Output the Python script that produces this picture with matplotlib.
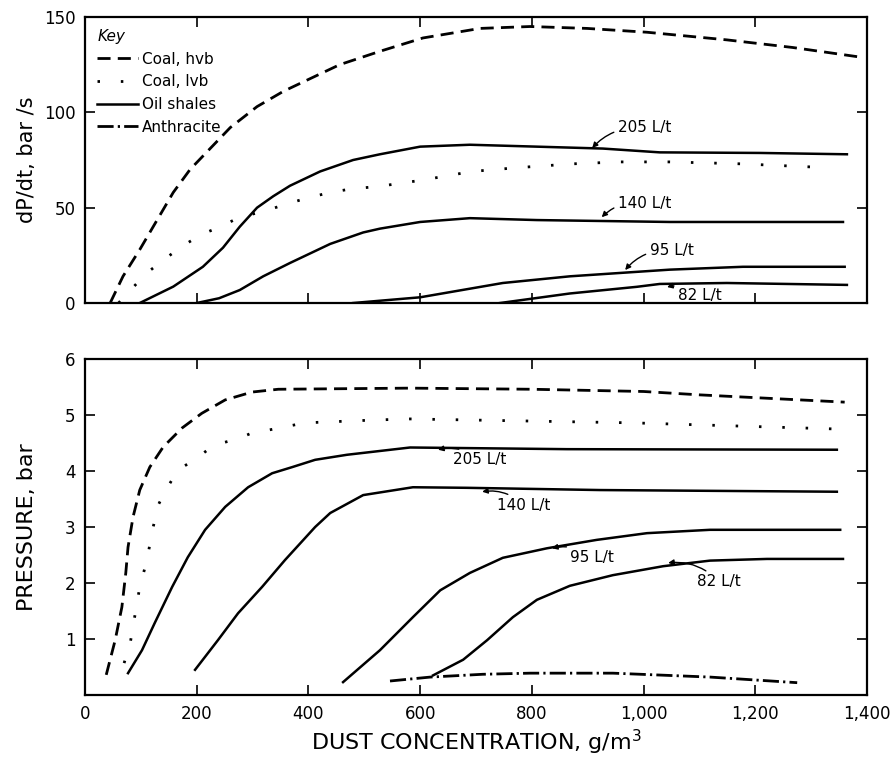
import matplotlib
matplotlib.use("Agg")
import matplotlib.pyplot as plt
from matplotlib.lines import Line2D

# ---- data ----
# top panel: rate of pressure rise, bar/s
hvb_top_x = [45, 68, 98, 129, 158, 188, 224, 260, 308, 355, 456, 528, 605, 707, 797, 899, 1006, 1149, 1267, 1387]
hvb_top_y = [0, 14, 28, 43.5, 58, 70, 81, 92, 103, 111, 125, 132, 139, 144, 145, 144, 142, 138, 134, 129]

lvb_top_x = [60, 95, 116, 147, 175, 209, 242, 277, 319, 362, 397, 439, 480, 522, 605, 693, 775, 874, 958, 1047, 1173, 1328]
lvb_top_y = [0, 11, 17, 24, 30, 36, 40, 45, 48, 52, 55, 58, 60, 61, 64.5, 69, 71, 73, 74, 74, 73, 71]

s205_top_x = [98, 158, 211, 247, 277, 308, 337, 367, 421, 480, 528, 600, 689, 809, 927, 1029, 1208, 1364]
s205_top_y = [0, 8.6, 19, 29, 40, 50, 56, 61.5, 69, 75, 78, 82, 83, 82, 81, 79, 78.7, 78]

s140_top_x = [200, 240, 277, 319, 367, 439, 498, 528, 600, 689, 809, 1047, 1357]
s140_top_y = [0, 2.5, 6.8, 14, 21, 31, 37, 39, 42.5, 44.5, 43.5, 42.5, 42.5]

s95_top_x = [480, 600, 748, 868, 970, 1047, 1178, 1360]
s95_top_y = [0, 3, 10.5, 14, 16, 17.5, 19, 19]

s82_top_x = [743, 868, 988, 1029, 1149, 1364]
s82_top_y = [0, 5, 8.5, 10, 10.5, 9.5]

# bottom panel: maximum pressure, bar
hvb_bot_x = [38, 54, 66, 73, 77, 86, 98, 116, 140, 174, 209, 251, 299, 346, 582, 800, 1000, 1100, 1360]
hvb_bot_y = [0.36, 0.98, 1.57, 2.18, 2.64, 3.18, 3.66, 4.07, 4.43, 4.77, 5.03, 5.27, 5.41, 5.46, 5.48, 5.46, 5.42, 5.36, 5.23]

lvb_bot_x = [70, 81, 90, 98, 111, 120, 131, 143, 158, 175, 200, 220, 245, 272, 299, 328, 358, 394, 516, 582, 981, 1346]
lvb_bot_y = [0.57, 0.93, 1.46, 1.93, 2.41, 2.91, 3.39, 3.63, 3.88, 4.07, 4.23, 4.38, 4.5, 4.57, 4.68, 4.73, 4.79, 4.86, 4.91, 4.93, 4.86, 4.75]

s205_bot_x = [77, 102, 125, 156, 184, 215, 251, 292, 335, 371, 412, 469, 582, 863, 1346]
s205_bot_y = [0.39, 0.8, 1.29, 1.93, 2.46, 2.95, 3.36, 3.71, 3.96, 4.07, 4.2, 4.29, 4.42, 4.39, 4.38]

s140_bot_x = [197, 238, 274, 317, 358, 412, 439, 498, 587, 684, 922, 1346]
s140_bot_y = [0.45, 0.98, 1.46, 1.93, 2.41, 3.0, 3.25, 3.57, 3.71, 3.7, 3.66, 3.63]

s95_bot_x = [462, 528, 587, 636, 689, 748, 827, 916, 1006, 1119, 1352]
s95_bot_y = [0.23, 0.8, 1.39, 1.87, 2.18, 2.45, 2.62, 2.77, 2.89, 2.95, 2.95]

s82_bot_x = [623, 677, 720, 766, 809, 868, 945, 1035, 1119, 1221, 1357]
s82_bot_y = [0.35, 0.63, 0.98, 1.39, 1.7, 1.95, 2.14, 2.3, 2.4, 2.43, 2.43]

anth_bot_x = [546, 618, 712, 797, 945, 1119, 1275]
anth_bot_y = [0.25, 0.32, 0.37, 0.39, 0.39, 0.32, 0.22]

x_ticks = [0, 200, 400, 600, 800, 1000, 1200, 1400]
x_ticklabels = ["0", "200", "400", "600", "800", "1,000", "1,200", "1,400"]

# (label text, text position, arrow tip)
top_notes = [
    ("205 L/t", (954, 91.8), (908, 81.3)),
    ("140 L/t", (954, 52.4), (925, 45.0)),
    ("95 L/t", (1011, 27.8), (967, 17.3)),
    ("82 L/t", (1062, 4.2), (1042, 8.4)),
]
bot_notes = [
    ("205 L/t", (659, 4.2), (632, 4.38)),
    ("140 L/t", (738, 3.39), (711, 3.63)),
    ("95 L/t", (868, 2.46), (836, 2.62)),
    ("82 L/t", (1096, 2.02), (1044, 2.36)),
]

# ---- styles ----
DASH = dict(color="k", lw=2, linestyle=(0, (4.7, 2.6)))
DOT = dict(color="k", lw=2, linestyle=(0, (0.9, 7.5)))
SOLID = dict(color="k", lw=1.8)
DASHDOT = dict(color="k", lw=2, linestyle=(0, (5.8, 1.5, 0.8, 1.5)))

plt.rcParams["font.family"] = "DejaVu Sans"

fig = plt.figure(figsize=(8.93, 7.65), dpi=100)
ax1 = fig.add_axes([0.0952, 0.6039, 0.8757, 0.3739])
ax2 = fig.add_axes([0.0952, 0.0915, 0.8757, 0.4392])

ax1.plot(hvb_top_x, hvb_top_y, **DASH)
ax1.plot(lvb_top_x, lvb_top_y, **DOT)
for xs, ys in [(s205_top_x, s205_top_y), (s140_top_x, s140_top_y),
               (s95_top_x, s95_top_y), (s82_top_x, s82_top_y)]:
    ax1.plot(xs, ys, **SOLID)

ax2.plot(hvb_bot_x, hvb_bot_y, **DASH)
ax2.plot(lvb_bot_x, lvb_bot_y, **DOT)
for xs, ys in [(s205_bot_x, s205_bot_y), (s140_bot_x, s140_bot_y),
               (s95_bot_x, s95_bot_y), (s82_bot_x, s82_bot_y)]:
    ax2.plot(xs, ys, **SOLID)
ax2.plot(anth_bot_x, anth_bot_y, **DASHDOT)


def add_notes(ax, notes):
    for txt, pos, tip in notes:
        ax.annotate(txt, xy=tip, xytext=pos, fontsize=11, ha="left", va="center",
                    arrowprops=dict(arrowstyle="-|>", color="k", lw=1.0,
                                    mutation_scale=8, shrinkA=1, shrinkB=0,
                                    connectionstyle="arc3,rad=0.25"))


add_notes(ax1, top_notes)
add_notes(ax2, bot_notes)

for ax in (ax1, ax2):
    ax.set_xlim(0, 1400)
    ax.set_xticks(x_ticks)
    for s in ax.spines.values():
        s.set_linewidth(1.6)
    ax.tick_params(direction="in", top=True, right=True, length=7, width=1.2,
                   labelsize=12, pad=7)
    ax.yaxis.set_label_coords(-0.061, 0.5)

ax1.set_ylim(0, 150)
ax1.set_yticks([0, 50, 100, 150])
ax1.tick_params(labelbottom=False)
ax1.set_ylabel("dP/dt, bar /s", fontsize=15)

ax2.set_ylim(0, 6)
ax2.set_yticks([1, 2, 3, 4, 5, 6])
ax2.set_xticklabels(x_ticklabels)
ax2.set_ylabel("PRESSURE, bar", fontsize=16)
ax2.set_xlabel("DUST CONCENTRATION, g/m$^3$", fontsize=16, labelpad=4)

handles = [Line2D([], [], **DASH), Line2D([], [], **DOT),
           Line2D([], [], **SOLID), Line2D([], [], **DASHDOT)]
leg = ax1.legend(handles, ["Coal, hvb", "Coal, lvb", "Oil shales", "Anthracite"],
                 loc="upper left", frameon=False, fontsize=11, title="Key",
                 title_fontproperties={"style": "italic", "size": 11},
                 alignment="left", handlelength=2.7, handletextpad=0.25,
                 labelspacing=0.5, borderaxespad=0.6, borderpad=0.2)

fig.savefig("out.png", dpi=100)
